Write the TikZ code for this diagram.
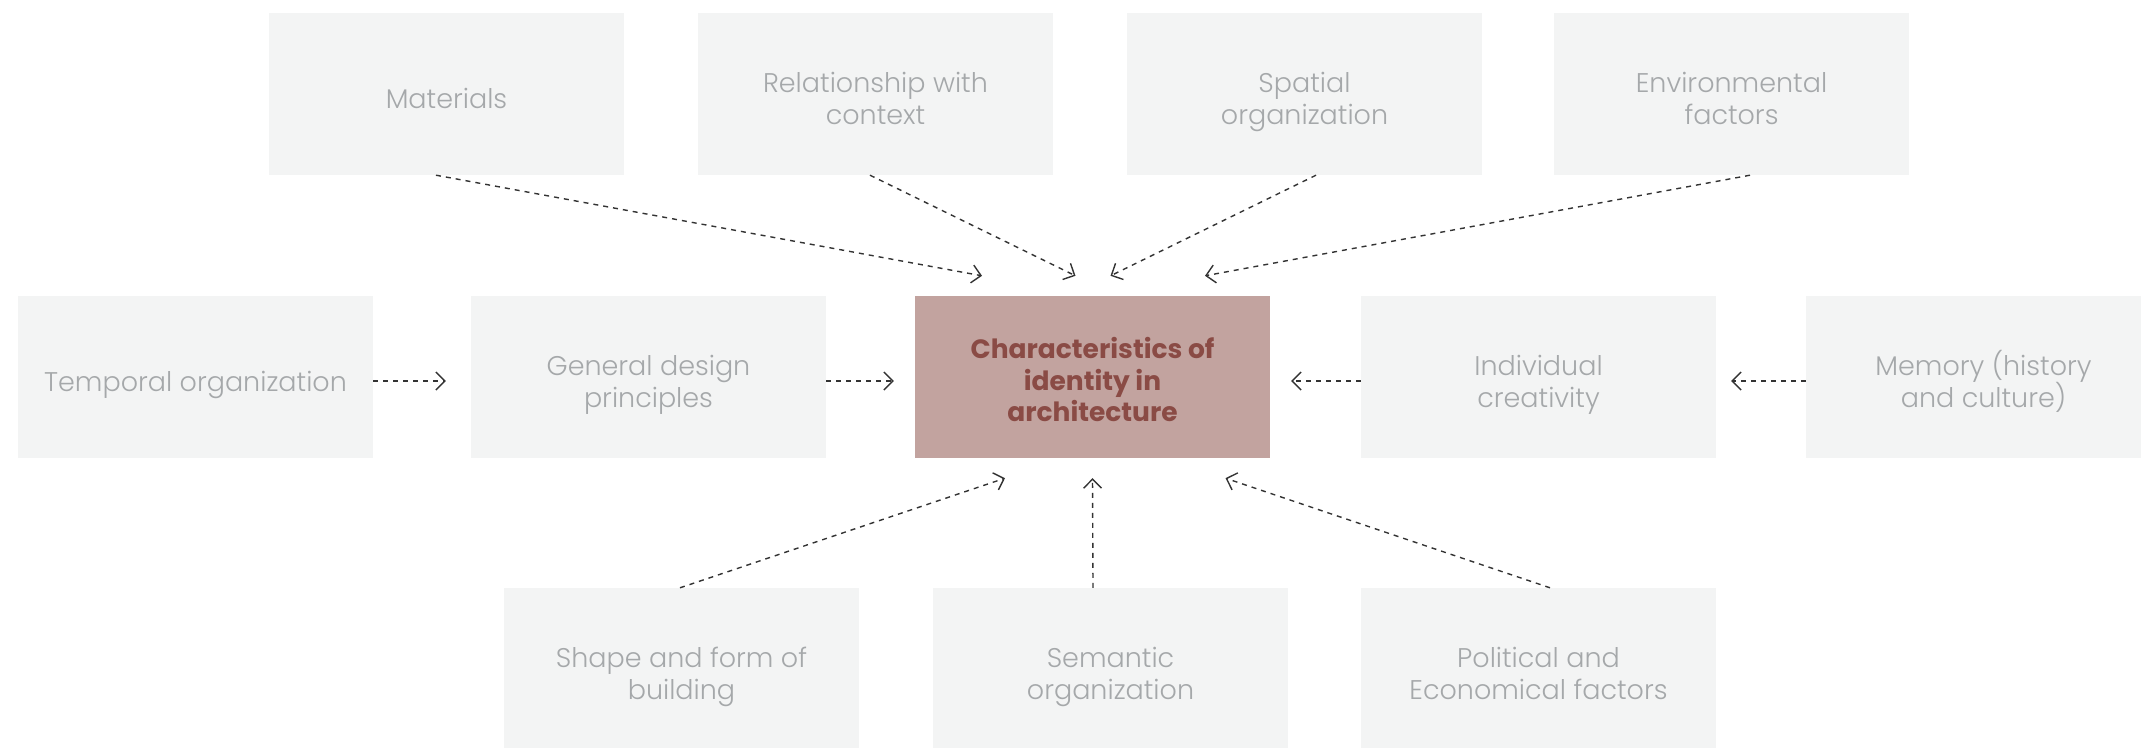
\documentclass[tikz,border=0pt]{standalone}
\usepackage{fontspec}
\setmainfont{Poppins}
\newfontfamily\lightfont{Poppins}[UprightFont={* Light}]
\usetikzlibrary{arrows.meta,calc}
\definecolor{boxfill}{HTML}{F3F4F4}
\definecolor{boxtext}{HTML}{A5A8AA}
\definecolor{ctrfill}{HTML}{C2A39F}
\definecolor{ctrtext}{HTML}{8A4B45}
\definecolor{linecol}{HTML}{333333}
% struts fixing the first baseline and the last depth
\newcommand\topstrut{\rule{0pt}{38pt}}
\newcommand\botstrut{\rule[-10pt]{0pt}{10pt}}
\newcommand\ctopstrut{\rule{0pt}{36pt}}
\newcommand\cbotstrut{\rule[-10pt]{0pt}{10pt}}
\newcommand\nolskip{\lineskiplimit=-100pt\relax}
\tikzset{
  factor/.style={draw=none, fill=boxfill, minimum width=355pt, minimum height=162pt,
    inner sep=0pt, align=center, text=boxtext,
    font=\lightfont\fontsize{27}{32}\selectfont\nolskip},
  core/.style={draw=none, fill=ctrfill, minimum width=355pt, minimum height=162pt,
    inner sep=0pt, align=center, text=ctrtext,
    font=\bfseries\fontsize{26.5}{31.7}\selectfont\nolskip},
  conn/.style={draw=linecol, line width=1.4pt, dash pattern=on 5pt off 5pt,
    -{Straight Barb[length=9pt,width=18pt,line width=1.4pt]}}
}
\begin{document}
\begin{tikzpicture}[x=1pt,y=-1pt]
\useasboundingbox (0,0) rectangle (2141,747);
\clip (0,0) rectangle (2141,747);
% top row
\node[factor] (mat) at (446.5,94) {\topstrut Materials\botstrut};
\node[factor] (rel) at (875.5,94) {\topstrut Relationship with\\context\botstrut};
\node[factor] (spa) at (1304.5,94) {\topstrut Spatial\\organization\botstrut};
\node[factor] (env) at (1731.5,94) {\topstrut Environmental\\factors\botstrut};
% middle row
\node[factor] (tmp) at (195.5,377) {\topstrut Temporal organization\botstrut};
\node[factor] (gen) at (648.5,377) {\topstrut General design\\principles\botstrut};
\node[core] (ctr) at (1092.5,377) {\ctopstrut Characteristics of\\identity in\\architecture\cbotstrut};
\node[factor] (ind) at (1538.5,377) {\topstrut Individual\\creativity\botstrut};
\node[factor] (mem) at (1983.5,377) {\topstrut Memory (history\\and culture)\botstrut};
% bottom row
\node[factor] (shp) at (681.5,669) {\topstrut Shape and form of\\building\botstrut};
\node[factor] (sem) at (1110.5,669) {\topstrut Semantic\\organization\botstrut};
\node[factor] (pol) at (1538.5,669) {\topstrut Political and\\Economical factors\botstrut};
% connectors
\draw[conn] ([xshift=-10.5pt]mat.south) -- ([xshift=-110.5pt,yshift=20pt]ctr.north);
\draw[conn] ([xshift=-5.5pt]rel.south) -- ([xshift=-17pt,yshift=20pt]ctr.north);
\draw[conn] ([xshift=11.5pt]spa.south) -- ([xshift=18pt,yshift=20pt]ctr.north);
\draw[conn] ([xshift=18.5pt]env.south) -- ([xshift=112.5pt,yshift=20pt]ctr.north);
\draw[conn] ([yshift=-4pt]tmp.east) -- ([xshift=-25pt,yshift=-4pt]gen.west);
\draw[conn] ([yshift=-4pt]gen.east) -- ([xshift=-21pt,yshift=-4pt]ctr.west);
\draw[conn] ([yshift=-4pt]ind.west) -- ([xshift=21pt,yshift=-4pt]ctr.east);
\draw[conn] ([yshift=-4pt]mem.west) -- ([xshift=15pt,yshift=-4pt]ind.east);
\draw[conn] ([xshift=-1.5pt]shp.north) -- ([xshift=-87.5pt,yshift=-20pt]ctr.south);
\draw[conn] ([xshift=-17.5pt]sem.north) -- ([yshift=-20pt]ctr.south);
\draw[conn] ([xshift=11.5pt]pol.north) -- ([xshift=133pt,yshift=-20pt]ctr.south);
\end{tikzpicture}
\end{document}
